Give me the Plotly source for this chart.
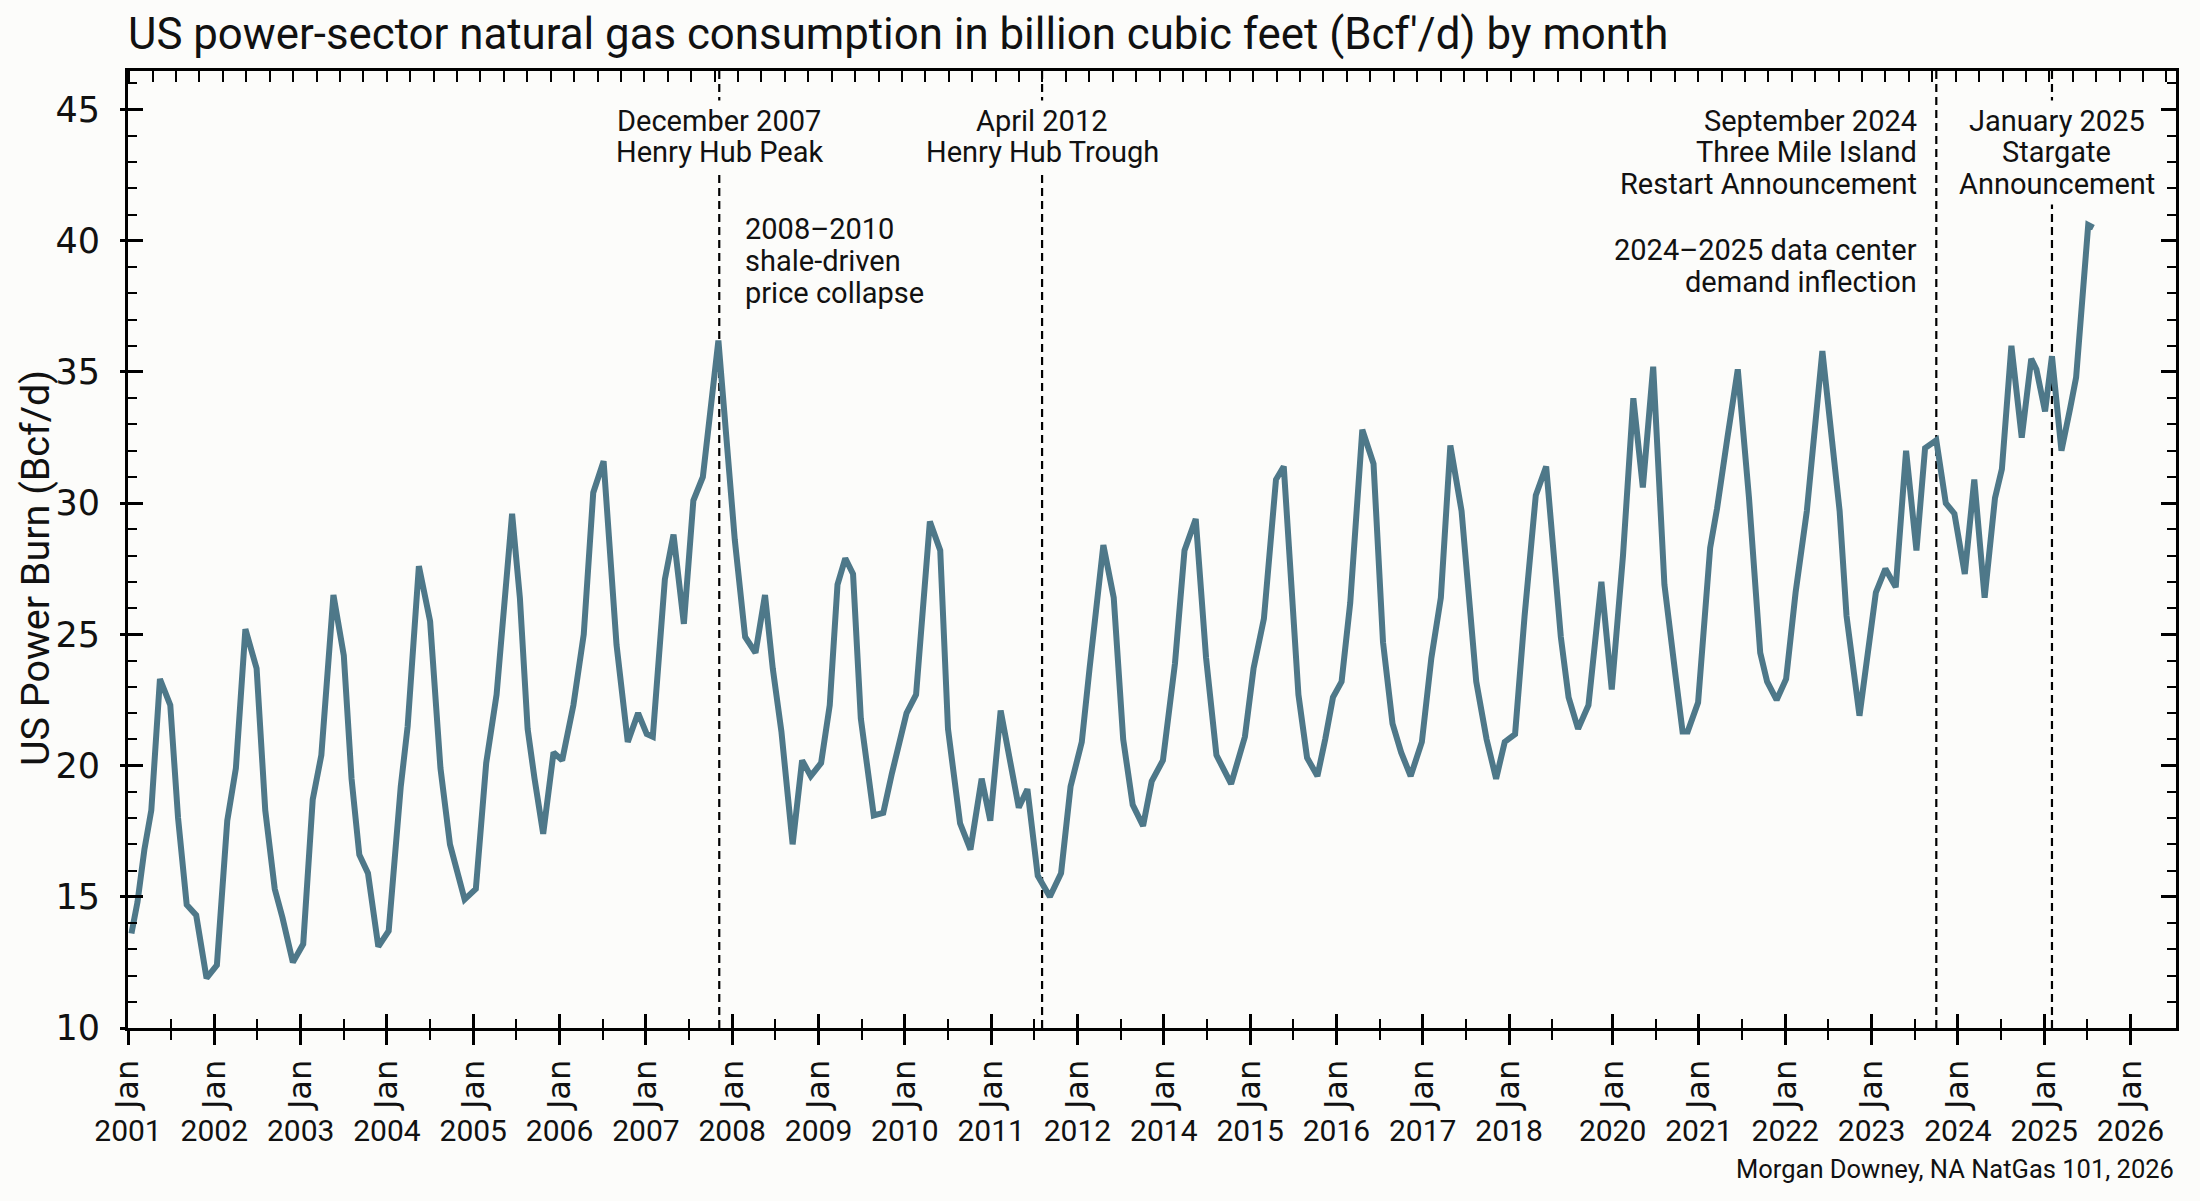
import plotly.graph_objects as go

title_text = "US power-sector natural gas consumption in billion cubic feet (Bcf\u2032/d) by month"
y_title = "US Power Burn (Bcf/d)"
credit_text = "Morgan Downey, NA NatGas 101, 2026"

# time positions (decimal years on the chart's time axis)
month_x = [
    2001.04, 2001.11, 2001.19, 2001.27, 2001.37, 2001.49, 2001.58, 2001.68, 2001.79, 2001.91,
    2002.03, 2002.15, 2002.25, 2002.36, 2002.49, 2002.59, 2002.70, 2002.79, 2002.91,
    2003.03, 2003.14, 2003.24, 2003.38, 2003.50, 2003.59, 2003.68, 2003.78, 2003.90,
    2004.02, 2004.16, 2004.24, 2004.37, 2004.50, 2004.62, 2004.73, 2004.81, 2004.90,
    2005.03, 2005.15, 2005.27, 2005.45, 2005.54, 2005.63, 2005.71, 2005.81, 2005.93,
    2006.03, 2006.16, 2006.28, 2006.39, 2006.51, 2006.66, 2006.79, 2006.91,
    2007.01, 2007.08, 2007.22, 2007.32, 2007.44, 2007.55, 2007.66, 2007.84,
    2008.03, 2008.15, 2008.27, 2008.38, 2008.47, 2008.57, 2008.70, 2008.81, 2008.91,
    2009.03, 2009.13, 2009.22, 2009.31, 2009.40, 2009.49, 2009.64, 2009.75, 2009.85, 2009.93,
    2010.02, 2010.13, 2010.29, 2010.41, 2010.50, 2010.64, 2010.76, 2010.89, 2010.99,
    2011.11, 2011.22, 2011.32, 2011.42, 2011.54, 2011.68, 2011.81, 2011.92,
    2012.05, 2012.14, 2012.30, 2012.42, 2012.53, 2012.64, 2012.76, 2012.86, 2012.99,
    2013.13, 2013.24, 2013.37, 2013.49, 2013.61, 2013.78, 2013.94,
    2014.04, 2014.16, 2014.30, 2014.39, 2014.56, 2014.66, 2014.78, 2014.87, 2014.96,
    2015.06, 2015.16, 2015.30, 2015.43, 2015.54, 2015.65, 2015.75, 2015.86, 2015.99,
    2016.10, 2016.21, 2016.32, 2016.45, 2016.62, 2016.74, 2016.85, 2016.95,
    2017.07, 2017.18, 2017.31, 2017.43, 2017.60, 2017.69, 2017.80, 2017.92,
    2018.07, 2018.19, 2018.32, 2018.44, 2018.55, 2018.67, 2018.80, 2018.93,
    2019.01, 2019.07, 2019.19, 2019.33, 2019.41, 2019.53, 2019.65, 2019.78, 2019.91, 2019.99,
    2020.10, 2020.21, 2020.32, 2020.45, 2020.63, 2020.83, 2020.91,
    2021.06, 2021.25, 2021.36, 2021.48, 2021.60, 2021.72, 2021.82, 2021.95,
    2022.06, 2022.16, 2022.28, 2022.39, 2022.51, 2022.63, 2022.71, 2022.82, 2022.94,
    2023.05, 2023.11, 2023.21, 2023.29, 2023.40, 2023.50, 2023.57, 2023.71, 2023.77,
]

# US power burn, Bcf/d
burn_bcfd = [
    13.6, 14.8, 16.8, 18.3, 23.3, 22.3, 18.0, 14.7, 14.3, 11.9,
    12.4, 17.9, 19.9, 25.2, 23.7, 18.3, 15.3, 14.2, 12.5,
    13.2, 18.7, 20.4, 26.5, 24.2, 19.5, 16.6, 15.9, 13.1,
    13.7, 19.2, 21.5, 27.6, 25.5, 19.9, 17.0, 16.0, 14.9,
    15.3, 20.1, 22.7, 29.6, 26.4, 21.4, 19.5, 17.4, 20.5,
    20.2, 22.3, 25.0, 30.4, 31.6, 24.6, 20.9, 22.0,
    21.2, 21.1, 27.1, 28.8, 25.4, 30.1, 31.0, 36.2,
    28.6, 24.9, 24.3, 26.5, 23.7, 21.3, 17.0, 20.2, 19.6,
    20.1, 22.3, 26.9, 27.9, 27.3, 21.8, 18.1, 18.2, 19.7, 20.8,
    22.0, 22.7, 29.3, 28.2, 21.4, 17.8, 16.8, 19.5, 17.9,
    22.1, 20.2, 18.4, 19.1, 15.8, 15.0, 15.9, 19.2,
    20.9, 23.7, 28.4, 26.4, 21.0, 18.5, 17.7, 19.4, 20.2,
    23.9, 28.2, 29.4, 24.1, 20.4, 19.3, 21.1,
    23.7, 25.6, 30.9, 31.4, 22.7, 20.3, 19.6, 21.0, 22.6,
    23.2, 26.2, 32.8, 31.5, 24.7, 21.6, 20.5, 19.6, 20.9,
    24.1, 26.4, 32.2, 29.7, 23.2, 21.0, 19.5, 20.9,
    21.2, 25.7, 30.3, 31.4, 24.9, 22.6, 21.4, 22.3,
    27.0, 22.9, 28.0, 34.0, 30.6, 35.2, 26.9, 23.4,
    21.3, 21.3, 22.4, 28.3, 29.8, 32.5, 35.1, 30.2, 24.3, 23.2,
    22.5, 23.3, 26.6, 29.7, 35.8, 29.7, 25.7,
    21.9, 26.6, 27.5, 26.8, 32.0, 28.2, 32.1, 32.4,
    30.0, 29.6, 27.3, 30.9, 26.4, 30.2, 31.3, 36.0, 32.5,
    35.5, 35.1, 33.5, 35.6, 32.0, 33.6, 34.8, 40.6, 40.5,
]

# x-axis ticks as drawn on the reference (labels as printed there)
year_tick_vals = [2001, 2002, 2003, 2004, 2005, 2006, 2007, 2008, 2009, 2010, 2011, 2012,
                  2013, 2014, 2015, 2016, 2017,
                  2018.2, 2019.2, 2020.2, 2021.2, 2022.2, 2023.2, 2024.2]
year_tick_text = ["2001", "2002", "2003", "2004", "2005", "2006", "2007", "2008", "2009",
                  "2010", "2011", "2012", "2014", "2015", "2016", "2017", "2018",
                  "2020", "2021", "2022", "2023", "2024", "2025", "2026"]
month_tick_text = ["Jan"] * len(year_tick_vals)
half_year_vals = [2001.5, 2002.5, 2003.5, 2004.5, 2005.5, 2006.5, 2007.5, 2008.5, 2009.5,
                  2010.5, 2011.5, 2012.5, 2013.5, 2014.5, 2015.5, 2016.5, 2017.5,
                  2018.7, 2019.7, 2020.7, 2021.7, 2022.7, 2023.7]

# event markers (dashed verticals)
event_x = [2007.85, 2011.59, 2021.95, 2023.29]

# annotation lines: (text, event index, xanchor, xshift, y value, opaque background)
note_lines = [
    ("December 2007", 0, "center", 0, 44.58, True),
    ("Henry Hub Peak", 0, "center", 0, 43.40, True),
    ("2008\u20132010", 0, "left", 22, 40.46, False),
    ("shale-driven", 0, "left", 22, 39.23, False),
    ("price collapse", 0, "left", 22, 38.00, False),
    ("April 2012", 1, "center", 0, 44.58, True),
    ("Henry Hub Trough", 1, "center", 0, 43.40, True),
    ("September 2024", 2, "right", -15, 44.58, False),
    ("Three Mile Island", 2, "right", -15, 43.40, False),
    ("Restart Announcement", 2, "right", -15, 42.17, False),
    ("2024\u20132025 data center", 2, "right", -15, 39.66, False),
    ("demand inflection", 2, "right", -15, 38.43, False),
    ("January 2025", 3, "center", 5, 44.58, True),
    ("Stargate", 3, "center", 5, 43.40, True),
    ("Announcement", 3, "center", 5, 42.17, True),
]

BG = "#fcfcfa"
LINE = "#4e7889"
TXT = "#111111"
MAIN_FONT = "Roboto"
TICK_FONT = "DejaVu Sans"

fig = go.Figure()
fig.add_trace(go.Scatter(x=month_x, y=burn_bcfd, mode="lines",
                         line=dict(color=LINE, width=6), hoverinfo="skip"))
# helper traces so the overlay axes are drawn
for xa, ya in [("x2", "y"), ("x3", "y"), ("x4", "y"), ("x", "y2")]:
    fig.add_trace(go.Scatter(x=month_x[:1], y=burn_bcfd[:1], xaxis=xa, yaxis=ya,
                             mode="markers", marker=dict(opacity=0), hoverinfo="skip"))

for ex in event_x:
    fig.add_shape(type="line", xref="x", yref="y domain", x0=ex, x1=ex, y0=0, y1=1,
                  line=dict(color="black", width=2.2, dash="8px,5px"), layer="below")

# first the opaque backing boxes (hide the dashed lines behind the centred labels) ...
for text, ei, anchor, shift, yv, opaque in note_lines:
    if opaque:
        fig.add_annotation(text=text, x=event_x[ei], y=yv, xref="x", yref="y",
                           xanchor=anchor, yanchor="middle", xshift=shift, showarrow=False,
                           font=dict(family=MAIN_FONT, size=29, color=BG),
                           bgcolor=BG, borderpad=3)
# ... then all the text on top
for text, ei, anchor, shift, yv, opaque in note_lines:
    fig.add_annotation(text=text, x=event_x[ei], y=yv, xref="x", yref="y",
                       xanchor=anchor, yanchor="middle", xshift=shift, showarrow=False,
                       font=dict(family=MAIN_FONT, size=29, color=TXT), borderpad=3)

fig.add_annotation(text=y_title, textangle=-90, xref="paper", yref="paper",
                   x=-0.0454, y=0.544, xanchor="center", yanchor="middle", showarrow=False,
                   font=dict(family=MAIN_FONT, size=39.5, color=TXT))
fig.add_annotation(text=credit_text, xref="paper", yref="paper", x=1, y=-0.0073,
                   xanchor="right", yanchor="middle", showarrow=False,
                   font=dict(family=MAIN_FONT, size=25.5, color=TXT))

x_range = [2001.0, 2024.727]
common_x = dict(range=x_range, showgrid=False, zeroline=False)

fig.update_layout(
    width=2200, height=1201,
    margin=dict(l=128, r=24, t=71, b=40),
    paper_bgcolor=BG, plot_bgcolor=BG,
    showlegend=False,
    title=dict(text=title_text, x=0, xref="paper", xanchor="left",
               y=1 - 34 / 1201, yref="container", yanchor="middle",
               font=dict(family=MAIN_FONT, size=43.8, color=TXT)),
    xaxis=dict(**common_x, tickmode="array", tickvals=year_tick_vals, ticktext=month_tick_text,
               tickangle=-90, ticks="outside", ticklen=14, tickwidth=2.5, tickcolor="black",
               showline=True, linecolor="black", linewidth=3, ticklabelstandoff=2,
               tickfont=dict(family=TICK_FONT, size=32, color=TXT),
               minor=dict(tickmode="array", tickvals=half_year_vals, ticks="outside",
                          ticklen=9, tickwidth=2, tickcolor="black", showgrid=False)),
    xaxis2=dict(**common_x, overlaying="x", matches="x", anchor="free", position=0.047,
                side="bottom", showline=False, ticks="", tickmode="array",
                tickvals=year_tick_vals, ticktext=year_tick_text,
                tickfont=dict(family=MAIN_FONT, size=30, color=TXT)),
    xaxis3=dict(**common_x, overlaying="x", matches="x", anchor="y", side="bottom",
                showline=False, showticklabels=False, tickmode="array",
                tickvals=year_tick_vals, ticks="inside", ticklen=14, tickwidth=2.5,
                tickcolor="black",
                minor=dict(tickmode="array", tickvals=half_year_vals, ticks="inside",
                           ticklen=9, tickwidth=2, tickcolor="black", showgrid=False)),
    xaxis4=dict(**common_x, overlaying="x", matches="x", anchor="y", side="top",
                showline=True, linecolor="black", linewidth=3, showticklabels=False,
                tickmode="linear", tick0=2001.285, dtick=0.2713, ticks="inside",
                ticklen=11, tickwidth=2, tickcolor="black"),
    yaxis=dict(domain=[0.12202, 1], range=[10, 46.47], tickmode="linear", tick0=10, dtick=5,
               ticks="inside", ticklen=15, tickwidth=2.5, tickcolor="black",
               mirror="ticks", showline=True, linecolor="black", linewidth=3,
               showgrid=False, zeroline=False, ticklabelstandoff=18,
               tickfont=dict(family=TICK_FONT, size=35, color=TXT),
               minor=dict(dtick=1, tick0=10, ticks="inside", ticklen=9, tickwidth=2,
                          tickcolor="black", showgrid=False)),
    yaxis2=dict(overlaying="y", matches="y", anchor="x", side="left", range=[10, 46.47],
                tickmode="linear", tick0=10, dtick=5, ticks="outside", ticklen=7,
                tickwidth=2.5, tickcolor="black", showticklabels=False, showline=False,
                showgrid=False, zeroline=False),
)

fig.write_html("out.html")
